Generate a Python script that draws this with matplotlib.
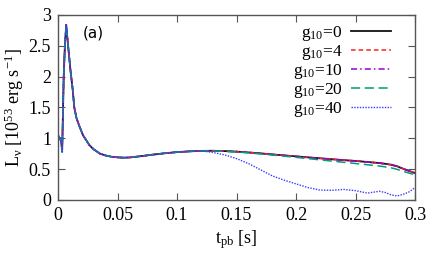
import numpy as np
import matplotlib
matplotlib.use('Agg')
import matplotlib.pyplot as plt

plt.rcParams['font.family'] = ['Liberation Serif', 'DejaVu Serif']
plt.rcParams['mathtext.fontset'] = 'custom'
plt.rcParams['mathtext.rm'] = 'Liberation Serif'
plt.rcParams['mathtext.it'] = 'Liberation Serif:italic'

# common early part (all models identical)
t_early = [0.0, 0.0008, 0.0015, 0.0025, 0.0035, 0.0048, 0.0058, 0.0069, 0.0085,
           0.0105, 0.0123, 0.0137, 0.0155, 0.0179, 0.021, 0.0263, 0.03, 0.0353,
           0.04, 0.045, 0.05, 0.055, 0.06, 0.07, 0.08, 0.09, 0.1, 0.11, 0.12]
L_early = [1.05, 1.02, 0.98, 1.0, 0.78, 2.0, 2.5, 2.84, 2.5,
           2.1, 1.8, 1.5, 1.33, 1.2, 1.05, 0.89, 0.82, 0.75,
           0.72, 0.70, 0.69, 0.685, 0.688, 0.71, 0.735, 0.757, 0.775, 0.787, 0.795]

t_late = [0.13, 0.14, 0.15, 0.16, 0.17, 0.18, 0.19, 0.2, 0.21, 0.22, 0.23, 0.24,
          0.25, 0.26, 0.27, 0.275, 0.28, 0.285, 0.29, 0.295, 0.3]
L_g0 = [0.797, 0.792, 0.783, 0.77, 0.755, 0.738, 0.722, 0.706, 0.69, 0.675, 0.66,
        0.645, 0.632, 0.615, 0.598, 0.585, 0.57, 0.545, 0.505, 0.47, 0.435]
L_g4 = [0.797, 0.792, 0.783, 0.77, 0.755, 0.738, 0.722, 0.706, 0.69, 0.675, 0.66,
        0.645, 0.632, 0.615, 0.598, 0.585, 0.57, 0.545, 0.505, 0.47, 0.435]
L_g10 = [0.797, 0.792, 0.783, 0.77, 0.755, 0.737, 0.721, 0.705, 0.689, 0.674, 0.659,
         0.644, 0.631, 0.614, 0.597, 0.584, 0.569, 0.544, 0.504, 0.469, 0.434]
L_g20 = [0.795, 0.788, 0.777, 0.763, 0.746, 0.728, 0.71, 0.69, 0.67, 0.65, 0.63,
         0.61, 0.59, 0.57, 0.55, 0.535, 0.52, 0.495, 0.465, 0.435, 0.405]
L_g40 = [0.77, 0.73, 0.67, 0.59, 0.49, 0.39, 0.32, 0.26, 0.2, 0.16, 0.155,
         0.17, 0.15, 0.11, 0.14, 0.12, 0.08, 0.065, 0.09, 0.13, 0.2]

labels = ['g$_{10}$=0', 'g$_{10}$=4', 'g$_{10}$=10', 'g$_{10}$=20', 'g$_{10}$=40']
series = [L_g0, L_g4, L_g10, L_g20, L_g40]
colors = ['#111111', '#ff2020', '#9400d3', '#009e73', '#3a3aff']
styles = ['-', (0, (3, 2)), (0, (4, 2, 1, 2)), (0, (6, 3)), (0, (1, 1))]
widths = [1.3, 1.1, 1.1, 1.1, 1.0]

fig = plt.figure(figsize=(4.36, 2.62), dpi=100)
ax = fig.add_axes([0.133, 0.237, 0.819, 0.706])

for lab, L, c, ls, lw in zip(labels, series, colors, styles, widths):
    ax.plot(t_early + t_late, L_early + L, color=c, ls=ls, lw=lw, label=lab)

ax.set_xlim(0, 0.3)
ax.set_ylim(0, 3)
ax.set_xticks([0, 0.05, 0.1, 0.15, 0.2, 0.25, 0.3])
ax.set_xticklabels(['0', '0.05', '0.1', '0.15', '0.2', '0.25', '0.3'])
ax.set_yticks([0, 0.5, 1, 1.5, 2, 2.5, 3])
ax.set_yticklabels(['0', '0.5', '1', '1.5', '2', '2.5', '3'])
ax.tick_params(direction='in', length=5, width=0.8, top=True, right=True,
               labelsize=13, pad=5, color='#555555',
               labelfontfamily='Liberation Serif')
for s in ax.spines.values():
    s.set_color('#555555')
    s.set_linewidth(1.0)

ax.set_xlabel('t$_{\\mathrm{pb}}$ [s]', fontsize=13, labelpad=3)
ax.set_ylabel('L$_{\\mathrm{\\nu}}$ [10$^{53}$ erg s$^{-1}$]', fontsize=13, labelpad=2)
ax.text(0.07, 0.9, '(a)', transform=ax.transAxes, fontsize=11,
        family='DejaVu Sans', va='center')

ax.legend(loc='upper right', bbox_to_anchor=(0.957, 1.0), frameon=False,
          markerfirst=False, fontsize=12.5, handlelength=2.3, handletextpad=0.5,
          labelspacing=0.0, borderpad=0.0)

fig.savefig('out.png', dpi=100)
